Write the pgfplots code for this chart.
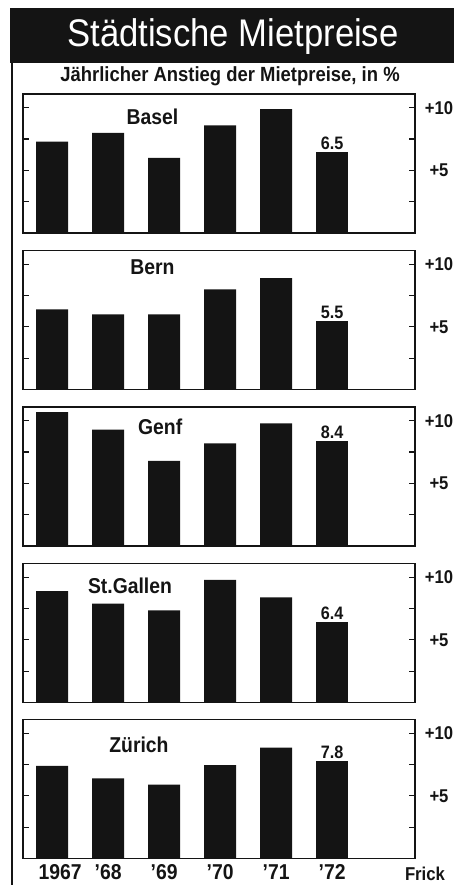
\documentclass[border=0pt]{standalone}
\usepackage{pgfplots}
\pgfplotsset{compat=1.18}
\usepackage{fontspec}
\setmainfont{Liberation Sans}[FakeStretch=0.9]
\definecolor{ink}{HTML}{141414}

\tikzset{city/.style={font=\bfseries\fontsize{21.5}{24}\selectfont, text=ink}}
\pgfplotsset{
  panel/.style={
    scale only axis, width=392pt, height=139pt, anchor=south west,
    xmin=-0.52, xmax=6.48, ymin=0, ymax=11.1,
    ybar, bar width=32pt, bar shift=0pt,
    axis line style={ink, line width=1.4pt},
    ytick={2.5,5,7.5,10}, yticklabels={,+5,,+10}, yticklabel pos=right,
    tick align=inside, major tick length=6pt,
    ytick style={ink, line width=1.2pt},
    xtick=\empty,
    yticklabel style={font=\bfseries\fontsize{18.5}{20}\selectfont, text=ink, anchor=center, xshift=24pt},
    point meta=explicit symbolic,
    nodes near coords style={font=\bfseries\fontsize{18}{20}\selectfont, text=ink, anchor=south, inner sep=2pt},
    clip=false,
  },
  bars/.style={fill=ink, draw=none},
  lab/.style={bars, nodes near coords},
}

\begin{document}
\begin{tikzpicture}[x=1pt,y=1pt]
\useasboundingbox (0pt,0pt) rectangle (454pt,885pt);
\fill[ink] (10pt,822pt) rectangle (454pt,877pt);
\node[white, anchor=base, inner sep=0, font=\fontsize{38.5}{40}\selectfont] at (233pt,838pt) {Städtische Mietpreise};
\node[anchor=base, inner sep=0, text=ink, font=\bfseries\fontsize{20.5}{22}\selectfont] at (230pt,803pt) {Jährlicher Anstieg der Mietpreise, in \%};
\draw[ink, line width=2.2pt] (12pt,823pt) -- (12pt,0pt);

% Basel
\begin{axis}[panel, at={(23pt,652pt)}]
\addplot[bars] coordinates {(0,7.3) (1,8.0) (2,6.0) (3,8.6) (4,9.9)};
\addplot[lab] coordinates {(5,6.5) [6.5]};
\node[city] at (axis cs:1.79,9.3) {Basel};
\end{axis}

% Bern
\begin{axis}[panel, at={(23pt,495.5pt)}]
\addplot[bars] coordinates {(0,6.4) (1,6.0) (2,6.0) (3,8.0) (4,8.9)};
\addplot[lab] coordinates {(5,5.5) [5.5]};
\node[city] at (axis cs:1.79,9.8) {Bern};
\end{axis}

% Genf
\begin{axis}[panel, at={(23pt,339pt)}]
\addplot[bars] coordinates {(0,10.7) (1,9.3) (2,6.8) (3,8.2) (4,9.8)};
\addplot[lab] coordinates {(5,8.4) [8.4]};
\node[city] at (axis cs:1.93,9.5) {Genf};
\end{axis}

% St.Gallen
\begin{axis}[panel, at={(23pt,182.5pt)}]
\addplot[bars] coordinates {(0,8.9) (1,7.9) (2,7.35) (3,9.8) (4,8.4)};
\addplot[lab] coordinates {(5,6.4) [6.4]};
\node[city] at (axis cs:1.39,9.3) {St.Gallen};
\end{axis}

% Zürich
\begin{axis}[panel, at={(23pt,26.5pt)},
  xtick={0,1,2,3,4,5},
  xticklabels={\hspace*{16pt}1967,’68,’69,’70,’71,’72},
  xtick style={draw=none},
  xticklabel style={font=\bfseries\fontsize{21.5}{22}\selectfont, text=ink, anchor=base, inner sep=0pt, yshift=-21pt},
]
\addplot[bars] coordinates {(0,7.4) (1,6.4) (2,5.9) (3,7.45) (4,8.85)};
\addplot[lab] coordinates {(5,7.8) [7.8]};
\node[city] at (axis cs:1.55,9.1) {Zürich};
\end{axis}

\node[anchor=base, inner sep=0, text=ink, font=\bfseries\fontsize{18.6}{20}\selectfont] at (425pt,5pt) {Frick};
\end{tikzpicture}
\end{document}
